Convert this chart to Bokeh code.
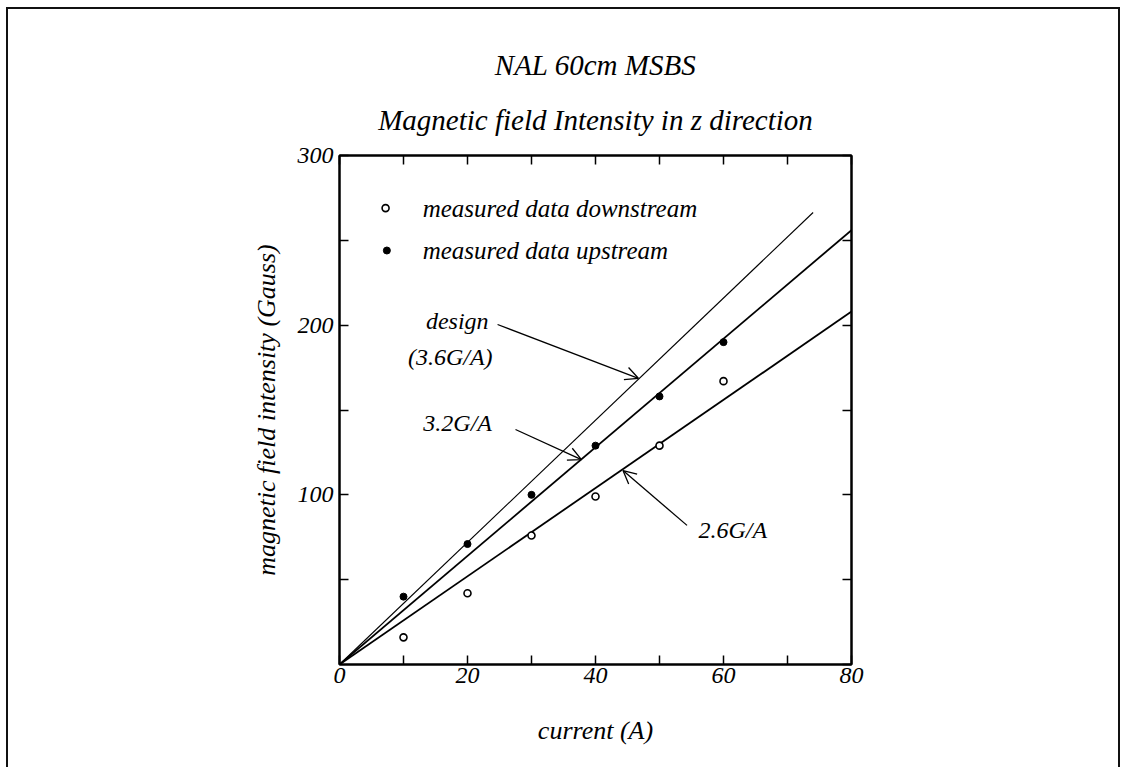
from bokeh.plotting import figure
from bokeh.models import Range1d, FixedTicker, LinearAxis, Label, Arrow, OpenHead, Title
from bokeh.embed import file_html
from bokeh.resources import INLINE

# ---- data ----
current = [10, 20, 30, 40, 50, 60]
downstream = [16, 42, 76, 99, 129, 167]
upstream = [40, 71, 100, 129, 158, 190]

line_names = ["design", "3.2G/A", "2.6G/A"]
line_slopes = [3.6, 3.2, 2.6]          # G/A
line_x_end = [74, 80, 80]              # A
line_widths = [1.1, 1.8, 1.8]

x_major = [0, 20, 40, 60, 80]
x_minor = [10, 30, 50, 70]
x_all = [0, 10, 20, 30, 40, 50, 60, 70, 80]
y_major = [100, 200, 300]
y_minor = [50, 150, 250]
y_all = [0, 50, 100, 150, 200, 250, 300]

FONT = "Liberation Serif"

p = figure(width=1110, height=758, frame_width=512, frame_height=509,
           min_border_left=331, min_border_right=267, min_border_top=146, min_border_bottom=103,
           x_range=Range1d(0, 80), y_range=Range1d(0, 300),
           output_backend="svg", toolbar_location=None)
p.styles = {"border-top": "2px solid #111", "border-left": "2px solid #111",
            "border-right": "2px solid #111", "margin-top": "7px", "margin-left": "6px"}

p.xgrid.visible = False
p.ygrid.visible = False
p.outline_line_color = "black"
p.outline_line_width = 2
p.background_fill_color = "white"
p.border_fill_color = "white"

def style_axis(ax, ticks, minor):
    ax.ticker = FixedTicker(ticks=ticks, minor_ticks=minor)
    ax.axis_line_color = "black"
    ax.axis_line_width = 2
    ax.major_tick_in = 9
    ax.major_tick_out = 0
    ax.minor_tick_in = 9
    ax.minor_tick_out = 0
    ax.major_tick_line_width = 1.5
    ax.minor_tick_line_width = 1.5
    ax.major_tick_line_color = "black"
    ax.minor_tick_line_color = "black"
    ax.major_label_text_font = FONT
    ax.major_label_text_font_style = "italic"
    ax.major_label_text_color = "black"
    ax.major_label_text_font_size = "24px"

xa = p.xaxis[0]
ya = p.yaxis[0]
style_axis(xa, x_major, x_minor)
style_axis(ya, y_major, y_minor)
xa.major_label_standoff = 3
ya.major_label_standoff = 6

xa.axis_label = "current (A)"
ya.axis_label = "magnetic field intensity (Gauss)"
for ax in (xa, ya):
    ax.axis_label_text_font = FONT
    ax.axis_label_text_font_style = "italic"
    ax.axis_label_text_font_size = "26px"
    ax.axis_label_text_color = "black"
xa.axis_label_standoff = 30
ya.axis_label_standoff = 14

# mirrored tick marks on top and right (minor ticks only -> no labels)
top = LinearAxis()
style_axis(top, [], x_all)
p.add_layout(top, "above")
right = LinearAxis()
style_axis(right, [], y_all)
p.add_layout(right, "right")

# ---- titles ----
p.add_layout(Title(text="Magnetic field Intensity in z direction", text_font=FONT,
                   text_font_style="italic", text_font_size="29px", text_color="black",
                   align="center", standoff=40), "above")
p.add_layout(Title(text="NAL 60cm MSBS", text_font=FONT,
                   text_font_style="italic", text_font_size="29px", text_color="black",
                   align="center", standoff=2), "above")

# ---- fitted / design lines ----
for slope, xe, lw in zip(line_slopes, line_x_end, line_widths):
    p.line([0, xe], [0, slope * xe], line_color="black", line_width=lw)

# ---- measured data ----
p.scatter(current, downstream, marker="circle", size=7, fill_color="white",
          line_color="black", line_width=1.6)
p.scatter(current, upstream, marker="circle", size=7, fill_color="black",
          line_color="black", line_width=1)

# ---- legend (drawn as in the original) ----
p.scatter([7.2], [269], marker="circle", size=7, fill_color="white",
          line_color="black", line_width=1.6)
p.scatter([7.4], [244], marker="circle", size=7, fill_color="black",
          line_color="black", line_width=1)

def lab(x, y, text, size="24px", align="left"):
    p.add_layout(Label(x=x, y=y, text=text, text_font=FONT, text_font_style="italic",
                       text_font_size=size, text_color="black", text_align=align,
                       text_baseline="middle"))

lab(13, 269, "measured data downstream", size="25px")
lab(13, 244, "measured data upstream", size="25px")

# ---- annotations ----
lab(18.4, 202.5, "design", align="center")
lab(17.3, 181.5, "(3.6G/A)", align="center")
lab(13.1, 142.6, "3.2G/A")
lab(56.1, 79.5, "2.6G/A")

def arrow(x0, y0, x1, y1):
    p.add_layout(Arrow(end=OpenHead(size=13, line_width=1.3, line_color="black"),
                       x_start=x0, y_start=y0, x_end=x1, y_end=y1,
                       line_color="black", line_width=1.3))

arrow(24.7, 200.4, 46.7, 168.7)
arrow(27.5, 138.5, 37.8, 120.8)
arrow(54.3, 82.0, 44.3, 114.3)

open("out.html", "w").write(file_html(p, INLINE))
